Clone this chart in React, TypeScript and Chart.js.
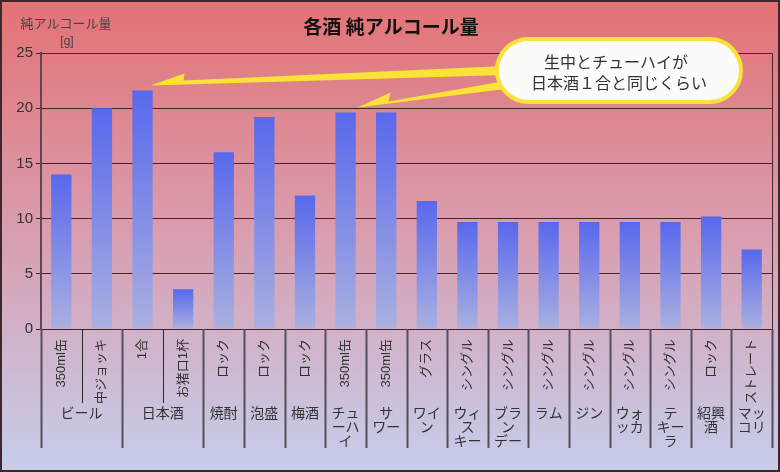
import React, { useEffect, useRef } from "react";
import { Chart, registerables } from "chart.js";

Chart.register(...registerables);

const categories = ["350ml缶", "中ジョッキ", "1合", "お猪口1杯", "ロック", "ロック", "ロック", "350ml缶", "350ml缶", "グラス", "シングル", "シングル", "シングル", "シングル", "シングル", "シングル", "ロック", "ストレート"];
const values = [14, 20, 21.6, 3.6, 16, 19.2, 12.1, 19.6, 19.6, 11.6, 9.7, 9.7, 9.7, 9.7, 9.7, 9.7, 10.2, 7.2];
const groupLabels: string[][] = [["ビール"], ["日本酒"], ["焼酎"], ["泡盛"], ["梅酒"], ["チュ", "ーハ", "イ"], ["サ", "ワー"], ["ワイ", "ン"], ["ウィ", "ス", "キー"], ["ブラ", "ン", "デー"], ["ラム"], ["ジン"], ["ウォ", "ッカ"], ["テ", "キー", "ラ"], ["紹興", "酒"], ["マッ", "コリ"]];
const groupSpans = [2, 2, 1, 1, 1, 1, 1, 1, 1, 1, 1, 1, 1, 1, 1, 1];
const yTicks = [0, 5, 10, 15, 20, 25];
const chartTitle = "各酒 純アルコール量";
const yTitle = ["純アルコール量", "[g]"];
const calloutText = ["生中とチューハイが", "日本酒１合と同じくらい"];
const calloutTargets = [2, 7];

const FONT = "'Liberation Sans', 'Noto Sans CJK JP', sans-serif";
const JP = "'Noto Sans CJK JP', sans-serif";

const decorPlugin = {
  id: "decor",
  beforeDraw(chart: any) {
    const { ctx, width, height } = chart;
    ctx.save();
    const g = ctx.createLinearGradient(0, 0, 0, height);
    g.addColorStop(0, "rgb(227,114,116)");
    g.addColorStop(0.5, "rgb(217,158,176)");
    g.addColorStop(1, "rgb(198,206,236)");
    ctx.fillStyle = g;
    ctx.fillRect(0, 0, width, height);
    ctx.restore();
  },
  afterDraw(chart: any) {
    const { ctx, chartArea, scales } = chart;
    const x = scales.x;
    const y = scales.y;
    const step = (chartArea.right - chartArea.left) / categories.length;
    ctx.save();
    ctx.strokeStyle = "rgb(70,40,45)";
    ctx.lineWidth = 1;
    ctx.beginPath();
    ctx.moveTo(chartArea.left, chartArea.top + 0.5);
    ctx.lineTo(chartArea.right + 0.5, chartArea.top + 0.5);
    ctx.lineTo(chartArea.right + 0.5, chartArea.bottom);
    ctx.stroke();

    let idx = 0;
    const boundaries = new Set<number>();
    boundaries.add(0);
    groupSpans.forEach((s) => {
      idx += s;
      boundaries.add(idx);
    });
    for (let i = 0; i <= categories.length; i++) {
      const px = Math.round(x.getPixelForValue(i) - step / 2) + 0.5;
      const isGroup = boundaries.has(i);
      ctx.beginPath();
      ctx.strokeStyle = isGroup ? "rgb(85,78,90)" : "rgb(40,40,40)";
      ctx.lineWidth = isGroup ? 2 : 1;
      ctx.moveTo(px, chartArea.bottom);
      ctx.lineTo(px, isGroup ? 448 : 403);
      ctx.stroke();
    }

    ctx.fillStyle = "#333";
    ctx.font = `14px ${JP}`;
    ctx.textAlign = "center";
    ctx.textBaseline = "middle";
    idx = 0;
    groupLabels.forEach((lines, gi) => {
      const s = groupSpans[gi];
      const cx = (x.getPixelForValue(idx) + x.getPixelForValue(idx + s - 1)) / 2;
      lines.forEach((ln, li) => {
        ctx.fillText(ln, cx, 413 + li * 14);
      });
      idx += s;
    });

    ctx.fillStyle = "#111";
    ctx.font = `bold 19px ${JP}`;
    ctx.fillText(chartTitle, 391, 27);

    ctx.fillStyle = "#444";
    ctx.font = `13px ${JP}`;
    ctx.fillText(yTitle[0], 66, 23);
    ctx.font = `12px ${FONT}`;
    ctx.fillText(yTitle[1], 67, 42);

    const bx = 497, by = 39, bw = 244, bh = 63, r = bh / 2;
    const yellow = "rgb(250,226,55)";
    const bar = chart.getDatasetMeta(0).data;
    const arrow = (tipX: number, tipY: number, barbX: number, barbY: number, notchX: number, notchY: number, endTopY: number, endBotY: number, endX: number) => {
      ctx.beginPath();
      ctx.moveTo(tipX, tipY);
      ctx.lineTo(barbX, barbY);
      ctx.lineTo(notchX, notchY);
      ctx.lineTo(endX, endTopY);
      ctx.lineTo(endX, endBotY);
      ctx.closePath();
      ctx.fillStyle = yellow;
      ctx.fill();
    };
    const b1 = bar[calloutTargets[0]];
    const t1x = b1.x + 8, t1y = y.getPixelForValue(values[calloutTargets[0]]) - 5;
    arrow(t1x, t1y, t1x + 34, t1y - 12, t1x + 33, t1y - 5, by + 27, by + 36, bx + 8);
    const b2 = bar[calloutTargets[1]];
    const t2x = b2.x + 12, t2y = y.getPixelForValue(values[calloutTargets[1]]) - 5;
    arrow(t2x, t2y, t2x + 33, t2y - 15, t2x + 31, t2y - 6, by + 42, by + 50, bx + 8);

    ctx.beginPath();
    ctx.moveTo(bx + r, by);
    ctx.lineTo(bx + bw - r, by);
    ctx.arc(bx + bw - r, by + r, r, -Math.PI / 2, Math.PI / 2);
    ctx.lineTo(bx + r, by + bh);
    ctx.arc(bx + r, by + r, r, Math.PI / 2, (3 * Math.PI) / 2);
    ctx.closePath();
    ctx.fillStyle = "#fbfbf9";
    ctx.fill();
    ctx.lineWidth = 4;
    ctx.strokeStyle = yellow;
    ctx.stroke();

    ctx.fillStyle = "#333";
    ctx.font = `16px ${JP}`;
    ctx.fillText(calloutText[0], bx + bw / 2 - 3, by + 23);
    ctx.fillText(calloutText[1], bx + bw / 2, by + 44);

    ctx.strokeStyle = "rgb(60,40,45)";
    ctx.lineWidth = 2;
    ctx.strokeRect(1, 1, chart.width - 2, chart.height - 2);
    ctx.restore();
  },
};

export default function App() {
  const ref = useRef<HTMLCanvasElement | null>(null);
  useEffect(() => {
    if (!ref.current) return;
    const chart = new Chart(ref.current, {
      type: "bar",
      data: {
        labels: categories,
        datasets: [
          {
            data: values,
            barPercentage: 0.5,
            categoryPercentage: 1.0,
            backgroundColor: (c: any) => {
              const ch = c.chart;
              const ys = ch.scales && ch.scales.y;
              if (!ys || c.type !== "data") return "rgb(110,125,230)";
              const v = c.raw as number;
              const top = ys.getPixelForValue(v);
              const bot = ys.getPixelForValue(0);
              if (!isFinite(top) || !isFinite(bot) || top === bot) return "rgb(110,125,230)";
              const g = ch.ctx.createLinearGradient(0, top, 0, bot);
              g.addColorStop(0, "rgb(88,104,236)");
              g.addColorStop(1, "rgb(170,176,224)");
              return g;
            },
            borderWidth: 0,
          },
        ],
      },
      options: {
        responsive: false,
        animation: false,
        devicePixelRatio: 1,
        layout: { padding: { top: 53, right: 8, left: 0, bottom: 0 } },
        plugins: { legend: { display: false }, tooltip: { enabled: false }, title: { display: false } },
        scales: {
          x: {
            grid: { display: false, drawOnChartArea: false, drawTicks: false },
            border: { display: false },
            ticks: {
              autoSkip: false,
              minRotation: 90,
              maxRotation: 90,
              padding: 10,
              color: "#333",
              font: { size: 13, family: FONT },
            },
            afterFit: (s: any) => {
              s.height = 143;
            },
          },
          y: {
            min: 0,
            max: 25,
            afterBuildTicks: (s: any) => {
              s.ticks = yTicks.map((v) => ({ value: v }));
            },
            grid: { color: "rgb(70,35,40)", lineWidth: 1, tickLength: 5, drawTicks: true },
            border: { display: true, color: "rgb(95,70,80)", width: 2 },
            ticks: { color: "#333", padding: 3, font: { size: 15, family: FONT } },
            afterFit: (s: any) => {
              s.width = 41;
            },
          },
        },
      },
      plugins: [decorPlugin],
    });
    return () => chart.destroy();
  }, []);
  return (
    <div style={{ position: "fixed", left: 0, top: 0, width: 780, height: 472 }}>
      <canvas ref={ref} width={780} height={472} style={{ width: 780, height: 472, display: "block" }} />
    </div>
  );
}
